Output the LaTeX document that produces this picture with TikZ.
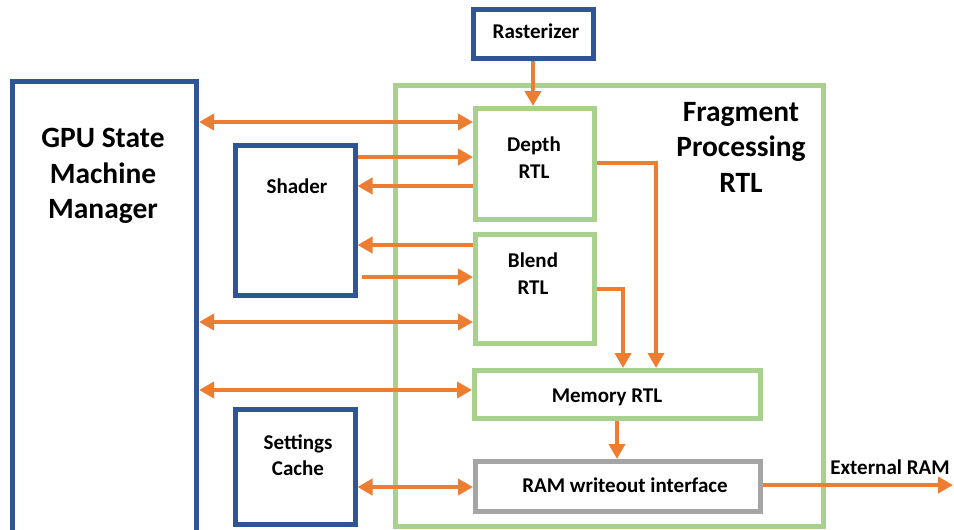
\documentclass[tikz,border=0pt]{standalone}
\usepackage{fontspec}
\setmainfont{Carlito}
\usetikzlibrary{arrows.meta,fit}
\definecolor{boxblue}{HTML}{2F5597}
\definecolor{boxgreen}{HTML}{A9D18E}
\definecolor{boxgray}{HTML}{A5A5A5}
\definecolor{wire}{HTML}{ED7D31}
\begin{document}
\begin{tikzpicture}[x=0.75pt,y=-0.75pt,
  blk/.style={draw=#1, line width=3.75pt, inner sep=0pt},
  bigtxt/.style={font=\fontsize{22.1pt}{26.6pt}\selectfont\bfseries, align=center, inner sep=0pt},
  smalltxt/.style={font=\fontsize{15.75pt}{19.9pt}\selectfont\bfseries, align=center, inner sep=0pt},
  tipA/.tip={Triangle[length=11.25pt,width=12pt]},
  arr/.style={draw=wire, line width=3pt, -tipA},
  darr/.style={draw=wire, line width=3pt, tipA-tipA},
]
\fill[white] (0,0) rectangle (954,529);
\clip (0,0) rectangle (954,529);

% blocks
\node[blk=boxgreen, fit={(395,85.5) (823,526.5)}] (frag) {};
\node[blk=boxblue, fit={(12.5,81.5) (196.5,545)}] (gpu) {};
\node[blk=boxblue, fit={(235.5,145.5) (355,295.5)}] (shader) {};
\node[blk=boxblue, fit={(473.5,9.5) (593.5,58.5)}] (rast) {};
\node[blk=boxblue, fit={(235.5,409) (355,524)}] (settings) {};
\node[blk=boxgreen, fit={(475.5,108.5) (594.5,219.5)}] (depth) {};
\node[blk=boxgreen, fit={(475.5,234.5) (594.5,343.5)}] (blend) {};
\node[blk=boxgreen, fit={(474.5,370.5) (760,418.5)}] (memory) {};
\node[blk=boxgray, fit={(475.5,461.5) (760,511.5)}] (ram) {};

% labels
\node[bigtxt] (gputxt) at (103,176) {GPU State\\Machine\\Manager};
\node[bigtxt] (fragtxt) at (741,147) {Fragment\\Processing\\RTL};
\node[smalltxt] (shadertxt) at (297,186) {Shader};
\node[smalltxt] (rasttxt) at (536,31) {Rasterizer};
\node[smalltxt] (depthtxt) at (534,157.5) {Depth\\RTL};
\node[smalltxt] (blendtxt) at (533,273.5) {Blend\\RTL};
\node[smalltxt] (settingstxt) at (298,455) {Settings\\Cache};
\node[smalltxt] (memtxt) at (607,397) {Memory RTL};
\node[smalltxt] (ramtxt) at (625,485) {RAM writeout interface};
\coordinate (extram) at (953,485);
\node[smalltxt, anchor=south] (exttxt) at (890,475) {External RAM};

% connectors
\draw[darr] (gpu.east |- 0,122) -- (depth.west |- 0,122);
\draw[arr] (shader.east |- 0,157) -- (depth.west |- 0,157);
\draw[arr] (depth.west |- 0,186) -- (shader.east |- 0,186);
\draw[arr] (blend.west |- 0,245) -- (shader.east |- 0,245);
\draw[arr] ([xshift=3pt]shader.east |- 0,277) -- (blend.west |- 0,277);
\draw[darr] (gpu.east |- 0,322) -- (blend.west |- 0,322);
\draw[darr] (gpu.east |- 0,390) -- (memory.west |- 0,390);
\draw[darr] (settings.east |- 0,487) -- (ram.west |- 0,487);
\draw[arr] (rast.south -| 533,0) -- (depth.north -| 533,0);
\draw[arr] (depth.east |- 0,163) -| (memory.north -| 656,0);
\draw[arr] (blend.east |- 0,289) -| (memory.north -| 623,0);
\draw[arr] (memory.south -| 617,0) -- (ram.north -| 617,0);
\draw[arr] (ram.east |- extram) -- (extram);
\end{tikzpicture}
\end{document}
